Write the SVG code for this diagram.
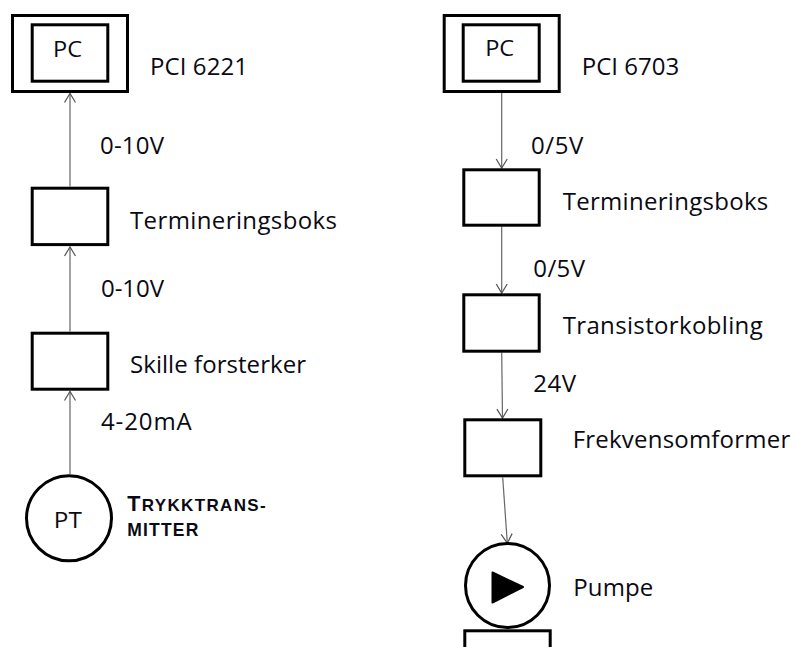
<svg xmlns="http://www.w3.org/2000/svg" width="796" height="647" viewBox="0 0 796 647">
<style>
.box{fill:#fff;stroke:#000;stroke-width:3}
.ln{fill:none;stroke:#666;stroke-width:1.2}
.t{font-family:"Open Sans","Liberation Sans",Arial,sans-serif;font-size:24px;fill:#0a0a14}
.tc{font-family:"Liberation Sans",Arial,sans-serif;font-weight:bold;fill:#0a0a14}
</style>
<defs>
<marker id="arr" markerUnits="userSpaceOnUse" markerWidth="12" markerHeight="14" viewBox="0 0 12 14" refX="10" refY="7" orient="auto">
<path d="M1,1.5 L10,7 L1,12.5" fill="none" stroke="#555" stroke-width="1.2"/>
</marker>
</defs>
<rect width="796" height="647" fill="#fff"/>
<g id="connectors">
<line class="ln" x1="70" y1="474" x2="70" y2="391.5" marker-end="url(#arr)"/>
<line class="ln" x1="70" y1="331.5" x2="70" y2="247" marker-end="url(#arr)"/>
<line class="ln" x1="70" y1="186.5" x2="70" y2="93.5" marker-end="url(#arr)"/>
<line class="ln" x1="501.7" y1="92.5" x2="501.7" y2="168" marker-end="url(#arr)"/>
<line class="ln" x1="501.7" y1="226.5" x2="501.7" y2="293" marker-end="url(#arr)"/>
<line class="ln" x1="501.7" y1="352.5" x2="502.5" y2="418" marker-end="url(#arr)"/>
<line class="ln" x1="502.7" y1="477.5" x2="507.3" y2="543" marker-end="url(#arr)"/>
</g>
<g id="pc-left">
<rect class="box" x="12.5" y="15.5" width="115" height="76"/>
<rect class="box" x="32.2" y="24.8" width="75.6" height="56.4"/>
<text class="t" x="67.5" y="56.7" text-anchor="middle" textLength="29" lengthAdjust="spacingAndGlyphs" style="font-size:21px">PC</text>
<text class="t" x="150" y="75" textLength="98" lengthAdjust="spacing">PCI 6221</text>
</g>
<g id="term-left">
<rect class="box" x="32.2" y="188.2" width="75.6" height="56.4"/>
<text class="t" x="130" y="229.3" textLength="207" lengthAdjust="spacing">Termineringsboks</text>
</g>
<g id="skille">
<rect class="box" x="32.2" y="333.2" width="75.6" height="56"/>
<text class="t" x="130" y="373.3" textLength="176" lengthAdjust="spacing">Skille forsterker</text>
</g>
<g id="pt">
<circle cx="69" cy="518.3" r="42.5" fill="#fff" stroke="#000" stroke-width="3"/>
<text class="t" x="67.8" y="527.7" text-anchor="middle" textLength="28" lengthAdjust="spacingAndGlyphs" style="font-size:21px">PT</text>
<text class="tc" x="127.3" y="510.5" textLength="138.4" lengthAdjust="spacing"><tspan style="font-size:21.5px">T</tspan><tspan style="font-size:17px">RYKKTRANS-</tspan></text>
<text class="tc" x="127.3" y="535.5" textLength="71" lengthAdjust="spacing" style="font-size:17.5px">MITTER</text>
</g>
<g id="labels-left">
<text class="t" x="100" y="154" textLength="64" lengthAdjust="spacing">0-10V</text>
<text class="t" x="101" y="296.7" textLength="63" lengthAdjust="spacing">0-10V</text>
<text class="t" x="101" y="430" textLength="90.7" lengthAdjust="spacing">4-20mA</text>
</g>
<g id="pc-right">
<rect class="box" x="444.2" y="15.5" width="115" height="76"/>
<rect class="box" x="463.2" y="24.8" width="76" height="56.4"/>
<text class="t" x="499.7" y="56" text-anchor="middle" textLength="29" lengthAdjust="spacingAndGlyphs" style="font-size:21px">PC</text>
<text class="t" x="581.7" y="75" textLength="97.6" lengthAdjust="spacing">PCI 6703</text>
</g>
<g id="term-right">
<rect class="box" x="463.8" y="169.8" width="75.4" height="55.4"/>
<text class="t" x="562.7" y="210" textLength="205.6" lengthAdjust="spacing">Termineringsboks</text>
</g>
<g id="transistor">
<rect class="box" x="463.8" y="294.8" width="75.4" height="56.4"/>
<text class="t" x="562.7" y="334" textLength="200" lengthAdjust="spacing">Transistorkobling</text>
</g>
<g id="frekvens">
<rect class="box" x="464.8" y="419.8" width="76" height="56"/>
<text class="t" x="572.7" y="448.3" textLength="217.5" lengthAdjust="spacing">Frekvensomformer</text>
</g>
<g id="pumpe">
<circle cx="507.5" cy="585.5" r="42" fill="#fff" stroke="#000" stroke-width="3"/>
<polygon points="492.5,572.5 523,587 492.5,602.5" fill="#000" stroke="#000" stroke-width="2" stroke-linejoin="round"/>
<text class="t" x="573.3" y="596" textLength="80" lengthAdjust="spacing">Pumpe</text>
</g>
<g id="bottom-box">
<rect class="box" x="464.8" y="630.8" width="85.4" height="40"/>
</g>
<g id="labels-right">
<text class="t" x="531" y="154" textLength="52.3" lengthAdjust="spacing">0/5V</text>
<text class="t" x="533.3" y="276.7" textLength="51.7" lengthAdjust="spacing">0/5V</text>
<text class="t" x="533.3" y="391.7" textLength="42.7" lengthAdjust="spacing">24V</text>
</g>
</svg>
